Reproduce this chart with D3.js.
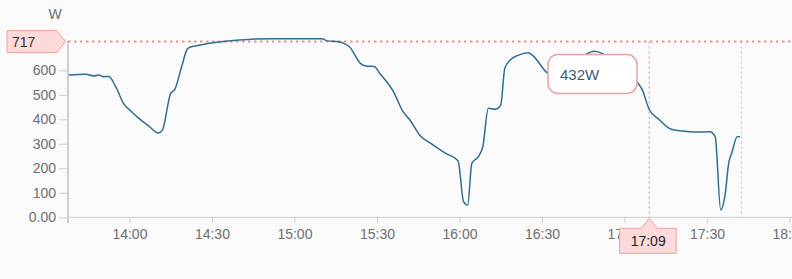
<!DOCTYPE html>
<html>
<head>
<meta charset="utf-8">
<script src="https://cdn.jsdelivr.net/npm/d3@7"></script>
<style>
  html, body { margin: 0; padding: 0; background: #fafafa; overflow: hidden; }
  svg { display: block; font-family: "Liberation Sans", Arial, sans-serif; }
</style>
</head>
<body>
<div id="chart"></div>
<script>
// Data

var times = ["13:38:00","13:44:00","13:47:00","13:49:00","13:50:30","13:52:30","13:55:00","13:58:00",
  "14:00:30","14:03:00","14:07:00","14:10:30","14:12:00","14:15:00","14:16:30","14:19:00","14:21:00",
  "14:22:00","14:24:00","14:29:00","14:40:00","14:52:00","15:10:00","15:12:00","15:16:00","15:18:00",
  "15:20:00","15:24:00","15:26:00","15:29:00","15:31:00","15:36:00","15:39:30","15:42:00","15:45:30",
  "15:50:30","15:55:00","15:59:30","16:01:30","16:03:00","16:04:30","16:07:00","16:08:30","16:10:30",
  "16:13:00","16:15:00","16:16:30","16:18:30","16:21:30","16:25:00","16:26:30","16:32:00","16:35:00",
  "16:40:00","16:46:00","16:49:00","16:52:00","16:56:00","17:01:00","17:04:30","17:06:30","17:09:00",
  "17:12:30","17:17:00","17:21:00","17:26:00","17:31:00","17:33:00","17:35:00","17:36:30","17:38:00",
  "17:39:00","17:41:00","17:42:00"];

var watts = [581,584,577,581,574,575,533,462,
  434,408,373,344,356,506,522,615,686,
  694,699,710,724,729,729,720,716,710,
  696,628,617,615,588,513,431,397,336,
  295,261,231,64,50,220,250,288,445,
  441,458,608,642,662,672,662,588,570,
  610,665,678,668,615,575,553,520,440,
  400,359,352,348,349,329,30,84,227,
  261,329,329];

var yTicks = [0, 100, 200, 300, 400, 500, 600];
var refValue = 717;
var hoverTime = "17:09:00";
var hoverLabel = "432W";
var endTime = "17:42:30";
var domainStart = "13:37:40";
var domainEnd = "18:01:00";

// Setup

var width = 792, height = 279;
var parse = d3.timeParse("%H:%M:%S");
var data = times.map(function(t, i) { return { t: parse(t), v: watts[i] }; });

var svg = d3.select("#chart").append("svg")
    .attr("width", width)
    .attr("height", height);

svg.append("rect").attr("width", width).attr("height", height).attr("fill", "#fafafa");

var x = d3.scaleTime()
    .domain([parse(domainStart), parse(domainEnd)])
    .range([68, 792.2]);

var y = d3.scaleLinear()
    .domain([0, refValue])
    .range([217.3, 41.6]);

// Axes

var xAxis = svg.append("g")
    .attr("transform", "translate(0," + y(0) + ")")
    .call(d3.axisBottom(x)
        .ticks(d3.timeMinute.every(30))
        .tickFormat(d3.timeFormat("%H:%M"))
        .tickSize(6).tickPadding(6).tickSizeOuter(0));
xAxis.select(".domain").remove();
xAxis.append("line").attr("x1", 68).attr("x2", width).attr("stroke", "#cfcfcf");
xAxis.selectAll(".tick line").attr("stroke", "#cfcfcf");
xAxis.selectAll(".tick text").attr("fill", "#6f6f6f").style("font-size", "14px")
    .style("font-family", "Liberation Sans, Arial, sans-serif");

var yAxis = svg.append("g")
    .attr("transform", "translate(68,0)")
    .call(d3.axisLeft(y)
        .tickValues(yTicks)
        .tickFormat(function(d) { return d === 0 ? "0.00" : d; })
        .tickSize(9).tickPadding(3).tickSizeOuter(0));
yAxis.select(".domain").remove();
yAxis.append("line").attr("y1", 41).attr("y2", 223).attr("stroke", "#cfcfcf").attr("stroke-width", 2);
yAxis.selectAll(".tick line").attr("stroke", "#cfcfcf");
yAxis.selectAll(".tick text").attr("fill", "#6f6f6f").style("font-size", "14px")
    .style("font-family", "Liberation Sans, Arial, sans-serif");

svg.append("text")
    .attr("x", 55).attr("y", 19)
    .attr("text-anchor", "middle")
    .attr("fill", "#6f6f6f")
    .style("font-size", "14px")
    .text("W");

// Reference lines

svg.append("line")
    .attr("x1", 68).attr("x2", width)
    .attr("y1", y(refValue)).attr("y2", y(refValue))
    .attr("stroke", "#e0998c").attr("stroke-width", 2)
    .attr("stroke-dasharray", "2.5,3.5");

var hx = x(parse(hoverTime));
svg.append("line")
    .attr("x1", hx).attr("x2", hx)
    .attr("y1", y(refValue)).attr("y2", y(0))
    .attr("stroke", "#e08a8a").attr("stroke-dasharray", "2,3");

var ex = x(parse(endTime));
svg.append("line")
    .attr("x1", ex).attr("x2", ex)
    .attr("y1", y(refValue)).attr("y2", y(0))
    .attr("stroke", "#d8b0b0").attr("stroke-dasharray", "2,3");

// Line

var line = d3.line()
    .x(function(d) { return x(d.t); })
    .y(function(d) { return y(d.v); })
    .curve(d3.curveMonotoneX);

svg.append("path")
    .datum(data)
    .attr("d", line)
    .attr("fill", "none")
    .attr("stroke", "#2f6d91")
    .attr("stroke-width", 1.5);

// 717 label

var ry = y(refValue);
svg.append("path")
    .attr("d", "M7," + (ry - 11) + "H57L65.5," + ry + "L57," + (ry + 11) + "H7Z")
    .attr("fill", "#fcdada").attr("stroke", "#e6a3a3");
svg.append("text")
    .attr("x", 12).attr("y", ry + 5)
    .attr("fill", "#333")
    .style("font-size", "14px")
    .text(refValue);

// Time label

var ty = y(0) + 1;
svg.append("path")
    .attr("d", "M" + (hx - 29.5) + "," + (ty + 10) + "H" + (hx - 8) + "L" + hx + "," + ty +
        "L" + (hx + 8) + "," + (ty + 10) + "H" + (hx + 27) + "V" + (ty + 35) + "H" + (hx - 29.5) + "Z")
    .attr("fill", "#fcdada").attr("stroke", "#e6a3a3");
svg.append("text")
    .attr("x", hx - 1).attr("y", ty + 28)
    .attr("text-anchor", "middle")
    .attr("fill", "#222")
    .style("font-size", "14px")
    .text(d3.timeFormat("%H:%M")(parse(hoverTime)));

// Tooltip

svg.append("rect")
    .attr("x", 548).attr("y", 54.5)
    .attr("width", 89).attr("height", 39)
    .attr("rx", 10)
    .attr("fill", "#fff").attr("stroke", "#e6a3a3").attr("stroke-width", 1.5);
svg.append("text")
    .attr("x", 560).attr("y", 80)
    .attr("fill", "#3d5a78")
    .style("font-size", "15px")
    .text(hoverLabel);
</script>
</body>
</html>
